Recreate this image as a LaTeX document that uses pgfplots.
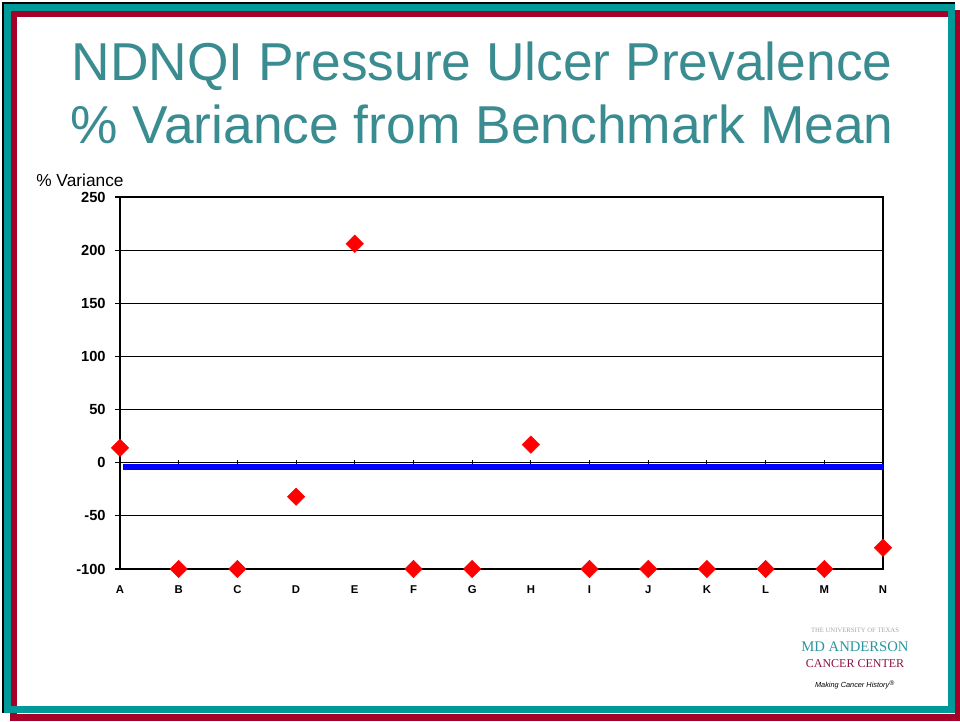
\documentclass[border=0pt]{standalone}
\usepackage{pgfplots}
\pgfplotsset{compat=1.18}
\usepackage{fontspec}
\setmainfont{Liberation Sans}
\newfontfamily\seriffont{Liberation Serif}
\definecolor{frameteal}{RGB}{0,153,153}
\definecolor{framemaroon}{RGB}{165,0,40}
\definecolor{titleteal}{RGB}{58,140,145}
\definecolor{logoteal}{RGB}{40,150,160}
\definecolor{logomaroon}{RGB}{140,20,70}
\begin{document}
\begin{tikzpicture}
\begin{scope}[x=0.75pt,y=0.75pt]
\useasboundingbox (0,0) rectangle (960,721);
\fill[white] (0,0) rectangle (960,721);
% frame (y measured from bottom: Y = 721 - y_px)
\draw[black, line width=1.5pt] (3,8) -- (3,718) -- (955,718);
\draw[framemaroon, line width=5.25pt] (13.5,4) rectangle (958,707.5);
\draw[frameteal, line width=5.25pt] (7.5,11.5) rectangle (951,713.5);
% title
\node[text=titleteal, font=\fontsize{40}{46}\selectfont] at (482,655) {NDNQI Pressure Ulcer Prevalence};
\node[text=titleteal, font=\fontsize{40}{46}\selectfont] at (482,597) {\% Variance from Benchmark Mean};
% y label
\node[anchor=west, font=\fontsize{13}{15}\selectfont, inner sep=0pt] at (36,541) {\% Variance};
\end{scope}
\begin{axis}[
  at={(90pt,114pt)}, anchor=south west,
  scale only axis, width=572.25pt, height=279pt,
  xmin=0, xmax=13, ymin=-100, ymax=250,
  clip=false,
  xtick={0,...,13},
  xticklabels={A,B,C,D,E,F,G,H,I,J,K,L,M,N},
  ytick={-100,-50,0,50,100,150,200,250},
  ytick pos=left,
  /pgf/number format/assume math mode=true,
  ymajorgrids,
  grid style={black, line width=0.8pt},
  axis line style={line width=2.2pt},
  xtick style={draw=none},
  ytick style={black, line width=0.8pt},
  tick align=outside,
  major tick length=3.75pt,
  yticklabel shift=3.5pt,
  xticklabel shift=5pt,
  xticklabel style={font=\bfseries\fontsize{8.5}{10}\selectfont},
  yticklabel style={font=\bfseries\fontsize{11}{12}\selectfont},
]
\addplot[blue, line width=4.5pt, forget plot] coordinates {(0.05,-4) (13,-4)};
\pgfplotsinvokeforeach{1,...,12}{
  \draw[black, line width=0.8pt] (axis cs:#1,-1) -- (axis cs:#1,2.5);
}
\addplot[only marks, mark=square*, mark size=4.6pt, color=red,
  mark options={rotate=45, fill=red, draw=red}] coordinates {
  (0,14) (1,-100) (2,-100) (3,-32) (4,206) (5,-100) (6,-100)
  (7,17) (8,-100) (9,-100) (10,-100) (11,-100) (12,-100) (13,-80)
};
\end{axis}
% logo
\begin{scope}[x=0.75pt,y=0.75pt]
\node[text=gray!70, font=\seriffont\fontsize{5}{6}\selectfont, inner sep=0pt] at (855,91) {THE UNIVERSITY OF TEXAS};
\node[text=logoteal, font=\seriffont\fontsize{11}{12}\selectfont, inner sep=0pt] at (855,74) {MD ANDERSON};
\node[text=logomaroon, font=\seriffont\fontsize{9}{10}\selectfont, inner sep=0pt] at (855,57) {CANCER CENTER};
\node[text=black, font=\itshape\fontsize{5.5}{6}\selectfont, inner sep=0pt] at (855,36) {Making Cancer History\textsuperscript{\tiny\textregistered}};
\end{scope}
\end{tikzpicture}
\end{document}
